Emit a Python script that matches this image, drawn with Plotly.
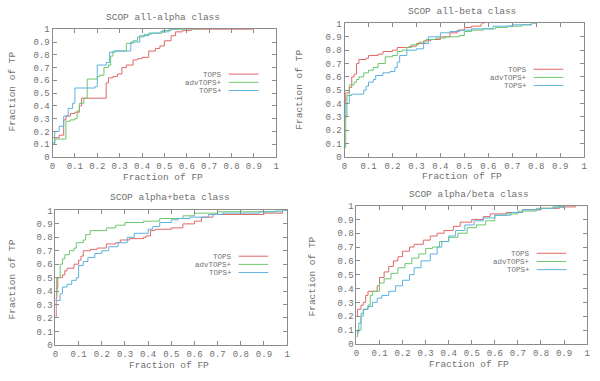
import plotly.graph_objects as go

W, H = 600, 381

titles = ["SCOP all-alpha class", "SCOP all-beta class", "SCOP alpha+beta class", "SCOP alpha/beta class"]
series_names = ["TOPS", "advTOPS+", "TOPS+"]
tick_vals = [0, 0.1, 0.2, 0.3, 0.4, 0.5, 0.6, 0.7, 0.8, 0.9, 1]
tick_text = ["0", "0.1", "0.2", "0.3", "0.4", "0.5", "0.6", "0.7", "0.8", "0.9", "1"]

# Panel 1: all-alpha
a_tops_x = [0, 0.03, 0.05, 0.06, 0.08, 0.10, 0.12, 0.13, 0.24, 0.25, 0.27, 0.29, 0.31, 0.33, 0.36, 0.38, 0.40, 0.43, 0.46, 0.48, 0.50, 0.53, 0.55, 0.58, 0.62, 0.9]
a_tops_y = [0.15, 0.17, 0.29, 0.32, 0.34, 0.35, 0.40, 0.46, 0.58, 0.62, 0.63, 0.65, 0.70, 0.72, 0.76, 0.77, 0.78, 0.83, 0.85, 0.87, 0.91, 0.95, 0.98, 0.99, 1.0, 1.0]
a_adv_x = [0, 0.01, 0.06, 0.08, 0.10, 0.11, 0.12, 0.14, 0.155, 0.20, 0.21, 0.23, 0.25, 0.26, 0.27, 0.33, 0.36, 0.38, 0.41, 0.44, 0.49, 0.53, 0.65]
a_adv_y = [0.10, 0.14, 0.28, 0.29, 0.30, 0.36, 0.42, 0.46, 0.61, 0.63, 0.64, 0.70, 0.72, 0.79, 0.83, 0.89, 0.91, 0.94, 0.96, 0.97, 0.99, 1.0, 1.0]
a_plus_x = [0, 0.01, 0.03, 0.05, 0.07, 0.09, 0.10, 0.19, 0.20, 0.24, 0.255, 0.28, 0.35, 0.39, 0.43, 0.48, 0.52, 0.56]
a_plus_y = [0.11, 0.20, 0.24, 0.32, 0.38, 0.42, 0.54, 0.55, 0.72, 0.74, 0.82, 0.83, 0.90, 0.95, 0.97, 0.98, 1.0, 1.0]

# Panel 2: all-beta
b_tops_x = [0, 0.005, 0.02, 0.03, 0.04, 0.05, 0.06, 0.09, 0.10, 0.14, 0.16, 0.20, 0.22, 0.27, 0.30, 0.33, 0.36, 0.40, 0.44, 0.47, 0.50, 0.53, 0.57, 0.585]
b_tops_y = [0.40, 0.48, 0.52, 0.60, 0.62, 0.70, 0.73, 0.74, 0.76, 0.77, 0.79, 0.80, 0.82, 0.83, 0.85, 0.87, 0.88, 0.90, 0.93, 0.95, 0.97, 0.98, 1.0, 1.0]
b_adv_x = [0, 0.005, 0.01, 0.02, 0.04, 0.05, 0.06, 0.08, 0.10, 0.12, 0.14, 0.17, 0.20, 0.22, 0.24, 0.26, 0.28, 0.31, 0.34, 0.38, 0.42, 0.48, 0.50, 0.53, 0.58, 0.63, 0.68, 0.74, 0.78, 0.80]
b_adv_y = [0.07, 0.30, 0.46, 0.54, 0.56, 0.58, 0.60, 0.63, 0.65, 0.67, 0.70, 0.75, 0.76, 0.79, 0.80, 0.82, 0.84, 0.86, 0.88, 0.89, 0.90, 0.91, 0.94, 0.95, 0.96, 0.97, 0.98, 0.99, 1.0, 1.0]
b_plus_x = [0, 0.005, 0.02, 0.03, 0.08, 0.09, 0.10, 0.12, 0.13, 0.16, 0.19, 0.21, 0.22, 0.23, 0.26, 0.30, 0.33, 0.35, 0.40, 0.44, 0.48, 0.53, 0.62, 0.70, 0.78, 0.80]
b_plus_y = [0.30, 0.40, 0.46, 0.47, 0.50, 0.53, 0.56, 0.58, 0.61, 0.63, 0.64, 0.67, 0.71, 0.76, 0.80, 0.81, 0.85, 0.90, 0.93, 0.94, 0.95, 0.96, 0.98, 0.99, 1.0, 1.0]

# Panel 3: alpha+beta
c_tops_x = [0, 0.003, 0.006, 0.01, 0.03, 0.04, 0.05, 0.08, 0.10, 0.11, 0.12, 0.15, 0.18, 0.22, 0.26, 0.28, 0.32, 0.38, 0.39, 0.41, 0.43, 0.50, 0.55, 0.60, 0.63, 0.68, 0.90, 0.98, 1.0]
c_tops_y = [0.21, 0.35, 0.42, 0.50, 0.52, 0.55, 0.57, 0.60, 0.63, 0.66, 0.70, 0.71, 0.72, 0.75, 0.76, 0.78, 0.79, 0.80, 0.81, 0.85, 0.86, 0.87, 0.90, 0.92, 0.95, 0.97, 0.98, 1.0, 1.0]
c_adv_x = [0, 0.005, 0.02, 0.03, 0.04, 0.06, 0.08, 0.09, 0.12, 0.13, 0.15, 0.20, 0.22, 0.26, 0.30, 0.38, 0.45, 0.55, 0.60, 0.70, 0.95, 1.0]
c_adv_y = [0.37, 0.50, 0.60, 0.64, 0.67, 0.70, 0.72, 0.76, 0.78, 0.82, 0.85, 0.85, 0.87, 0.89, 0.91, 0.92, 0.94, 0.96, 0.98, 0.99, 1.0, 1.0]
c_plus_x = [0, 0.02, 0.03, 0.05, 0.07, 0.09, 0.10, 0.12, 0.14, 0.17, 0.20, 0.23, 0.27, 0.31, 0.34, 0.40, 0.42, 0.45, 0.50, 0.53, 0.58, 0.66, 0.72, 0.88, 0.98, 1.0]
c_plus_y = [0.33, 0.38, 0.43, 0.45, 0.48, 0.50, 0.59, 0.62, 0.65, 0.68, 0.70, 0.73, 0.76, 0.80, 0.83, 0.86, 0.88, 0.91, 0.93, 0.94, 0.95, 0.97, 0.98, 0.99, 1.0, 1.0]

# Panel 4: alpha/beta
d_tops_x = [0, 0.005, 0.02, 0.03, 0.04, 0.05, 0.08, 0.09, 0.10, 0.12, 0.14, 0.16, 0.18, 0.20, 0.23, 0.25, 0.29, 0.32, 0.35, 0.38, 0.42, 0.45, 0.50, 0.55, 0.58, 0.65, 0.72, 0.80, 0.88, 0.95, 0.98]
d_tops_y = [0.20, 0.25, 0.28, 0.30, 0.35, 0.38, 0.38, 0.42, 0.48, 0.52, 0.56, 0.60, 0.63, 0.67, 0.70, 0.72, 0.75, 0.78, 0.80, 0.82, 0.85, 0.88, 0.90, 0.92, 0.94, 0.95, 0.97, 0.98, 0.99, 1.0, 1.0]
d_adv_x = [0, 0.005, 0.02, 0.03, 0.05, 0.06, 0.07, 0.10, 0.12, 0.15, 0.18, 0.21, 0.24, 0.27, 0.30, 0.33, 0.36, 0.40, 0.44, 0.48, 0.52, 0.56, 0.60, 0.65, 0.70, 0.78, 0.85, 0.90, 0.95]
d_adv_y = [0.05, 0.10, 0.20, 0.25, 0.28, 0.35, 0.38, 0.44, 0.47, 0.51, 0.55, 0.58, 0.62, 0.65, 0.69, 0.70, 0.74, 0.77, 0.80, 0.84, 0.86, 0.89, 0.93, 0.94, 0.96, 0.98, 0.99, 1.0, 1.0]
d_plus_x = [0, 0.01, 0.02, 0.03, 0.05, 0.07, 0.09, 0.11, 0.14, 0.17, 0.20, 0.23, 0.25, 0.28, 0.32, 0.35, 0.37, 0.40, 0.43, 0.47, 0.51, 0.55, 0.60, 0.67, 0.72, 0.80, 0.86, 0.90, 0.95]
d_plus_y = [0.08, 0.15, 0.22, 0.25, 0.27, 0.30, 0.33, 0.35, 0.38, 0.42, 0.46, 0.50, 0.55, 0.60, 0.65, 0.70, 0.74, 0.78, 0.82, 0.86, 0.89, 0.91, 0.93, 0.95, 0.97, 0.98, 0.99, 1.0, 1.0]

panels = [
    [(a_tops_x, a_tops_y), (a_adv_x, a_adv_y), (a_plus_x, a_plus_y)],
    [(b_tops_x, b_tops_y), (b_adv_x, b_adv_y), (b_plus_x, b_plus_y)],
    [(c_tops_x, c_tops_y), (c_adv_x, c_adv_y), (c_plus_x, c_plus_y)],
    [(d_tops_x, d_tops_y), (d_adv_x, d_adv_y), (d_plus_x, d_plus_y)],
]

colors = ["#e06868", "#6cc86c", "#5eb2e2"]
FONT = "Liberation Mono"
TXT = "#707070"
AX = "#8c8c8c"

# plot boxes in pixels: (left, right, top, bottom)
boxes = [(50, 276, 26, 157), (345, 587, 20, 157), (53, 287, 212, 350), (357, 590, 207, 349)]
title_pos = [(162, 14), (464, 8), (169, 199), (471, 196)]
xtitle_pos = [(162, 178), (464, 177), (168, 371), (471, 370)]
ytitle_pos = [(10, 90), (300, 88), (10, 283), (313, 280)]
legend_pos = [(222, 72), (530, 67), (232, 259), (533, 256)]

def px(x):
    return x / W

def py(y):
    return 1 - y / H

fig = go.Figure()
annotations = []
shapes = []
for i, (series, box) in enumerate(zip(panels, boxes)):
    n = "" if i == 0 else str(i + 1)
    l, r, t, b = box
    for j, (xs, ys) in enumerate(series):
        fig.add_trace(go.Scatter(x=xs, y=ys, mode="lines", line=dict(color=colors[j], width=1, shape="hv"),
                                 name=series_names[j], showlegend=False, xaxis="x" + n, yaxis="y" + n, hoverinfo="skip"))
    common = dict(range=[0, 1], showgrid=False, zeroline=False, showline=True, linecolor=AX, linewidth=1,
                  mirror="ticks", ticks="inside", ticklen=4, tickcolor=AX, tickvals=tick_vals, ticktext=tick_text,
                  tickfont=dict(family=FONT, size=9, color=TXT), fixedrange=True)
    fig.update_layout(**{
        "xaxis" + n: dict(domain=[px(l), px(r)], anchor="y" + n, **common),
        "yaxis" + n: dict(domain=[py(b), py(t)], anchor="x" + n, **common),
    })
    tx, ty = title_pos[i]
    annotations.append(dict(text=titles[i], x=px(tx), y=py(ty), xref="paper", yref="paper", showarrow=False,
                            font=dict(family=FONT, size=9.5, color=TXT), xanchor="center", yanchor="middle"))
    tx, ty = xtitle_pos[i]
    annotations.append(dict(text="Fraction of FP", x=px(tx), y=py(ty), xref="paper", yref="paper", showarrow=False,
                            font=dict(family=FONT, size=9.5, color=TXT), xanchor="center", yanchor="middle"))
    tx, ty = ytitle_pos[i]
    annotations.append(dict(text="Fraction of TP", x=px(tx), y=py(ty), xref="paper", yref="paper", showarrow=False,
                            textangle=-90, font=dict(family=FONT, size=9.5, color=TXT), xanchor="center", yanchor="middle"))
    lx, ly = legend_pos[i]
    for j, name in enumerate(series_names):
        yy = ly + j * 8.4
        annotations.append(dict(text=name, x=px(lx), y=py(yy), xref="paper", yref="paper", showarrow=False,
                                height=7, borderpad=0,
                                font=dict(family=FONT, size=7.5, color=TXT), xanchor="right", yanchor="middle"))
        shapes.append(dict(type="line", xref="paper", yref="paper", x0=px(lx + 6), x1=px(lx + 36),
                           y0=py(yy), y1=py(yy), line=dict(color=colors[j], width=1)))

fig.update_layout(width=W, height=H, margin=dict(l=0, r=0, t=0, b=0), paper_bgcolor="white",
                  plot_bgcolor="white", annotations=annotations, shapes=shapes, showlegend=False)
fig.write_html("out.html", config={"displayModeBar": False, "staticPlot": True},
               post_script="document.body.style.margin='0';document.body.style.overflow='hidden';")
